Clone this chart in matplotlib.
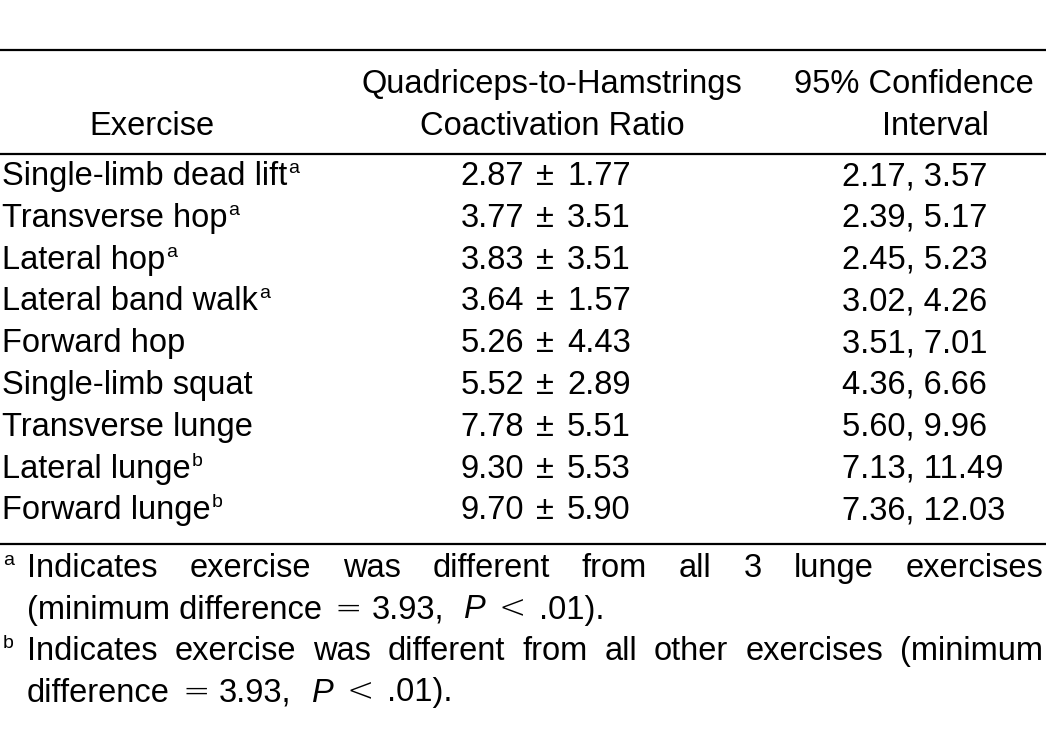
import matplotlib
matplotlib.use("Agg")
import matplotlib.pyplot as plt

# table contents
HEADERS = ["Exercise", "Quadriceps-to-Hamstrings\nCoactivation Ratio", "95% Confidence\nInterval"]
EXERCISES = ["Single-limb dead lift", "Transverse hop", "Lateral hop", "Lateral band walk",
             "Forward hop", "Single-limb squat", "Transverse lunge", "Lateral lunge",
             "Forward lunge"]
MARKS = ["a", "a", "a", "a", "", "", "", "b", "b"]
MEAN = [2.87, 3.77, 3.83, 3.64, 5.26, 5.52, 7.78, 9.30, 9.70]
SD = [1.77, 3.51, 3.51, 1.57, 4.43, 2.89, 5.51, 5.53, 5.90]
CI_LO = [2.17, 2.39, 2.45, 3.02, 3.51, 4.36, 5.60, 7.13, 7.36]
CI_HI = [3.57, 5.17, 5.23, 4.26, 7.01, 6.66, 9.96, 11.49, 12.03]
NOTE_A = "Indicates exercise was different from all 3 lunge exercises"
NOTE_B = "Indicates exercise was different from all other exercises (minimum"
MIN_DIFF = 3.93

W, H = 1046, 746
FONT = "Liberation Sans"
MATH = "DejaVu Sans"
FS = 23.5
SUP = 14

fig = plt.figure(figsize=(W / 100, H / 100), dpi=100)
ax = fig.add_axes([0, 0, 1, 1])
ax.set_xlim(0, W); ax.set_ylim(H, 0); ax.axis("off")
rend = fig.canvas.get_renderer()


def txt(x, y, s, size=FS, family=FONT, **kw):
    return ax.text(x, y, s, fontsize=size, family=family, va="baseline", **kw)


def width(t):
    return t.get_window_extent(rend).width


def runs(x, y, parts):
    # (pad before, text, extra kwargs) laid out on one baseline
    for pad, s, kw in parts:
        x += pad
        t = txt(x, y, s, **kw)
        x += width(t)
    return x


def justify(x0, x1, y, line):
    words = [txt(0, y, w) for w in line.split()]
    ws = [width(t) for t in words]
    gap = (x1 - x0 - sum(ws)) / (len(words) - 1)
    x = x0
    for t, w in zip(words, ws):
        t.set_x(x)
        x += w + gap


def p_tail(lead):
    return [(0, lead, {}), (13, "=", {"family": MATH, "fontweight": "light"}),
            (9, f"{MIN_DIFF:.2f},", {}), (20, "P", {"fontstyle": "italic"}),
            (13, "<", {"family": MATH, "fontweight": "light"}), (13, ".01).", {})]


# rules
for yy in (50, 154, 544):
    ax.plot([0, W], [yy, yy], color="black", lw=1.6, solid_capstyle="butt")

# header
h1, h2 = HEADERS[1].split("\n"), HEADERS[2].split("\n")
txt(152, 135, HEADERS[0], ha="center")
txt(552, 93, h1[0], ha="center")
txt(552, 135, h1[1], ha="center")
txt(914, 93, h2[0], ha="center")
txt(935, 135, h2[1], ha="center")

# body
y0, dy = 185, 41.8
for i, name in enumerate(EXERCISES):
    y = y0 + i * dy
    t = txt(2, y, name)
    if MARKS[i]:
        txt(2 + width(t) + 1, y - 12, MARKS[i], size=SUP)
    txt(524, y, f"{MEAN[i]:.2f}", ha="right")
    txt(545, y, "\u00b1", ha="center")
    txt(567, y, f"{SD[i]:.2f}")
    txt(842, y, f"{CI_LO[i]:.2f}, {CI_HI[i]:.2f}")

# footnotes
fy = 577
txt(3, fy - 12, "a", size=SUP)
justify(27, 1043, fy, NOTE_A)
runs(27, fy + 41.5, p_tail("(minimum difference"))
txt(3, fy + 83 - 12, "b", size=SUP)
justify(27, 1043, fy + 83, NOTE_B)
runs(27, fy + 124.5, p_tail("difference"))

fig.savefig("out.png", dpi=100)
